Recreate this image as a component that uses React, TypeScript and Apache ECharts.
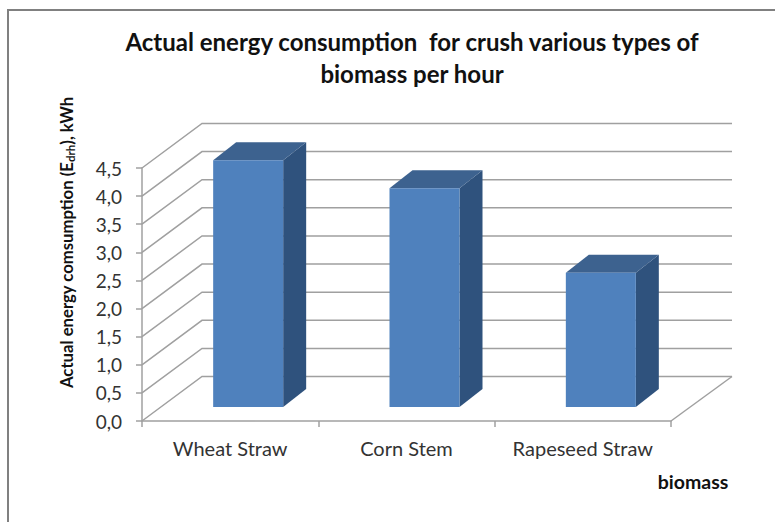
import React, { useEffect, useRef } from "react";
import * as echarts from "echarts";

const categories = ["Wheat Straw", "Corn Stem", "Rapeseed Straw"];
const values = [4.39, 3.89, 2.39];
const yTicks = [0, 0.5, 1, 1.5, 2, 2.5, 3, 3.5, 4, 4.5];

const FONT = "Lato";
const DEPTH_X = 60, DEPTH_Y = 44.5;
const BAR_W = 70, BAR_DX = 18, BAR_DY = 14, SIDE_X = 23, SIDE_Y = 18;
const GRID_COLOR = "#a0a0a0";

export default function App() {
  const ref = useRef<HTMLDivElement>(null);
  useEffect(() => {
    document.body.style.margin = "0";
    const chart = echarts.init(ref.current!, null, { renderer: "svg" });
    chart.setOption({
      animation: false,
      backgroundColor: "#ffffff",
      title: {
        text: "Actual energy consumption  for crush various types of\nbiomass per hour",
        left: 407, top: 20, textAlign: "center",
        textStyle: { fontFamily: FONT, fontWeight: "bold", fontSize: 24, color: "#111", lineHeight: 32 },
      },
      grid: { left: 142, right: 104, top: 168, bottom: 101 },
      xAxis: {
        type: "category", data: categories,
        name: "biomass", nameLocation: "end", nameGap: 22,
        nameTextStyle: { fontFamily: FONT, fontWeight: "bold", fontSize: 19.5, color: "#111", align: "center", verticalAlign: "top", padding: [50, 0, 0, 0] },
        axisLine: { lineStyle: { color: GRID_COLOR, width: 1.5 } },
        axisTick: { show: true, length: 6, interval: 0, alignWithLabel: false, lineStyle: { color: GRID_COLOR, width: 1.5 } },
        axisLabel: { fontFamily: FONT, fontSize: 20, color: "#333", margin: 17, interval: 0, hideOverlap: false },
        splitLine: { show: false },
      },
      yAxis: {
        type: "value", min: 0, max: 4.5, interval: 0.5,
        name: "{b|Actual energy comsumption (E}{s|drh}{b|), kWh}",
        nameLocation: "middle", nameGap: 66, nameRotate: 90,
        nameTextStyle: {
          padding: [0, 0, 0, 104],
          rich: {
            b: { fontFamily: FONT, fontWeight: "bold", fontSize: 16.7, color: "#111" },
            s: { fontFamily: FONT, fontWeight: "bold", fontSize: 11.5, color: "#111", padding: [6, 0, 0, 0] },
          },
        },
        axisLine: { show: true, lineStyle: { color: GRID_COLOR, width: 1.5 } },
        axisTick: { show: true, length: 6, lineStyle: { color: GRID_COLOR, width: 1.5 } },
        axisLabel: { fontFamily: FONT, fontSize: 19, color: "#333", margin: 20, formatter: (v: number) => v.toFixed(1).replace(".", ",") },
        splitLine: { show: false },
      },
      graphic: [
        { type: "polyline", silent: true, shape: { points: [[8, 522], [8, 10], [775, 10]] }, style: { stroke: "#808080", lineWidth: 2, fill: "none" } },
      ],
      series: [
        {
          type: "custom", z: 1, silent: true, clip: false,
          data: yTicks.map((t) => [0, t]),
          encode: { x: 0, y: 1 },
          renderItem: (params: any, api: any) => {
            const cs = params.coordSys;
            const y = api.coord([0, api.value(1)])[1];
            const left = cs.x, right = cs.x + cs.width;
            const pts = [[left, y], [left + DEPTH_X, y - DEPTH_Y], [right + DEPTH_X + 1, y - DEPTH_Y]];
            const children: any[] = [
              { type: "polyline", shape: { points: pts }, style: { stroke: GRID_COLOR, lineWidth: 1.5, fill: "none" } },
            ];
            if (api.value(1) === 0) {
              children.push({ type: "line", shape: { x1: right, y1: y, x2: right + DEPTH_X + 1, y2: y - DEPTH_Y }, style: { stroke: GRID_COLOR, lineWidth: 1.5 } });
            }
            return { type: "group", children };
          },
        },
        {
          type: "custom", z: 2, silent: true, clip: false,
          data: values.map((v, i) => [i, v]),
          encode: { x: 0, y: 1 },
          renderItem: (_p: any, api: any) => {
            const [cx, yTop0] = api.coord([api.value(0), api.value(1)]);
            const [, yBase0] = api.coord([api.value(0), 0]);
            const l = cx + BAR_DX - BAR_W / 2, r = l + BAR_W;
            const b = yBase0 - BAR_DY, t = yTop0 - BAR_DY;
            return {
              type: "group",
              children: [
                { type: "polygon", shape: { points: [[r, b], [r + SIDE_X, b - SIDE_Y], [r + SIDE_X, t - SIDE_Y], [r, t]] }, style: { fill: "#2f527d" } },
                { type: "polygon", shape: { points: [[l, t], [l + SIDE_X, t - SIDE_Y], [r + SIDE_X, t - SIDE_Y], [r, t]] }, style: { fill: "#3d628f" } },
                { type: "rect", shape: { x: l, y: t, width: BAR_W, height: b - t }, style: { fill: "#4f81bd" } },
              ],
            };
          },
        },
      ],
    });
    return () => chart.dispose();
  }, []);
  return <div ref={ref} style={{ width: 775, height: 522 }} />;
}
